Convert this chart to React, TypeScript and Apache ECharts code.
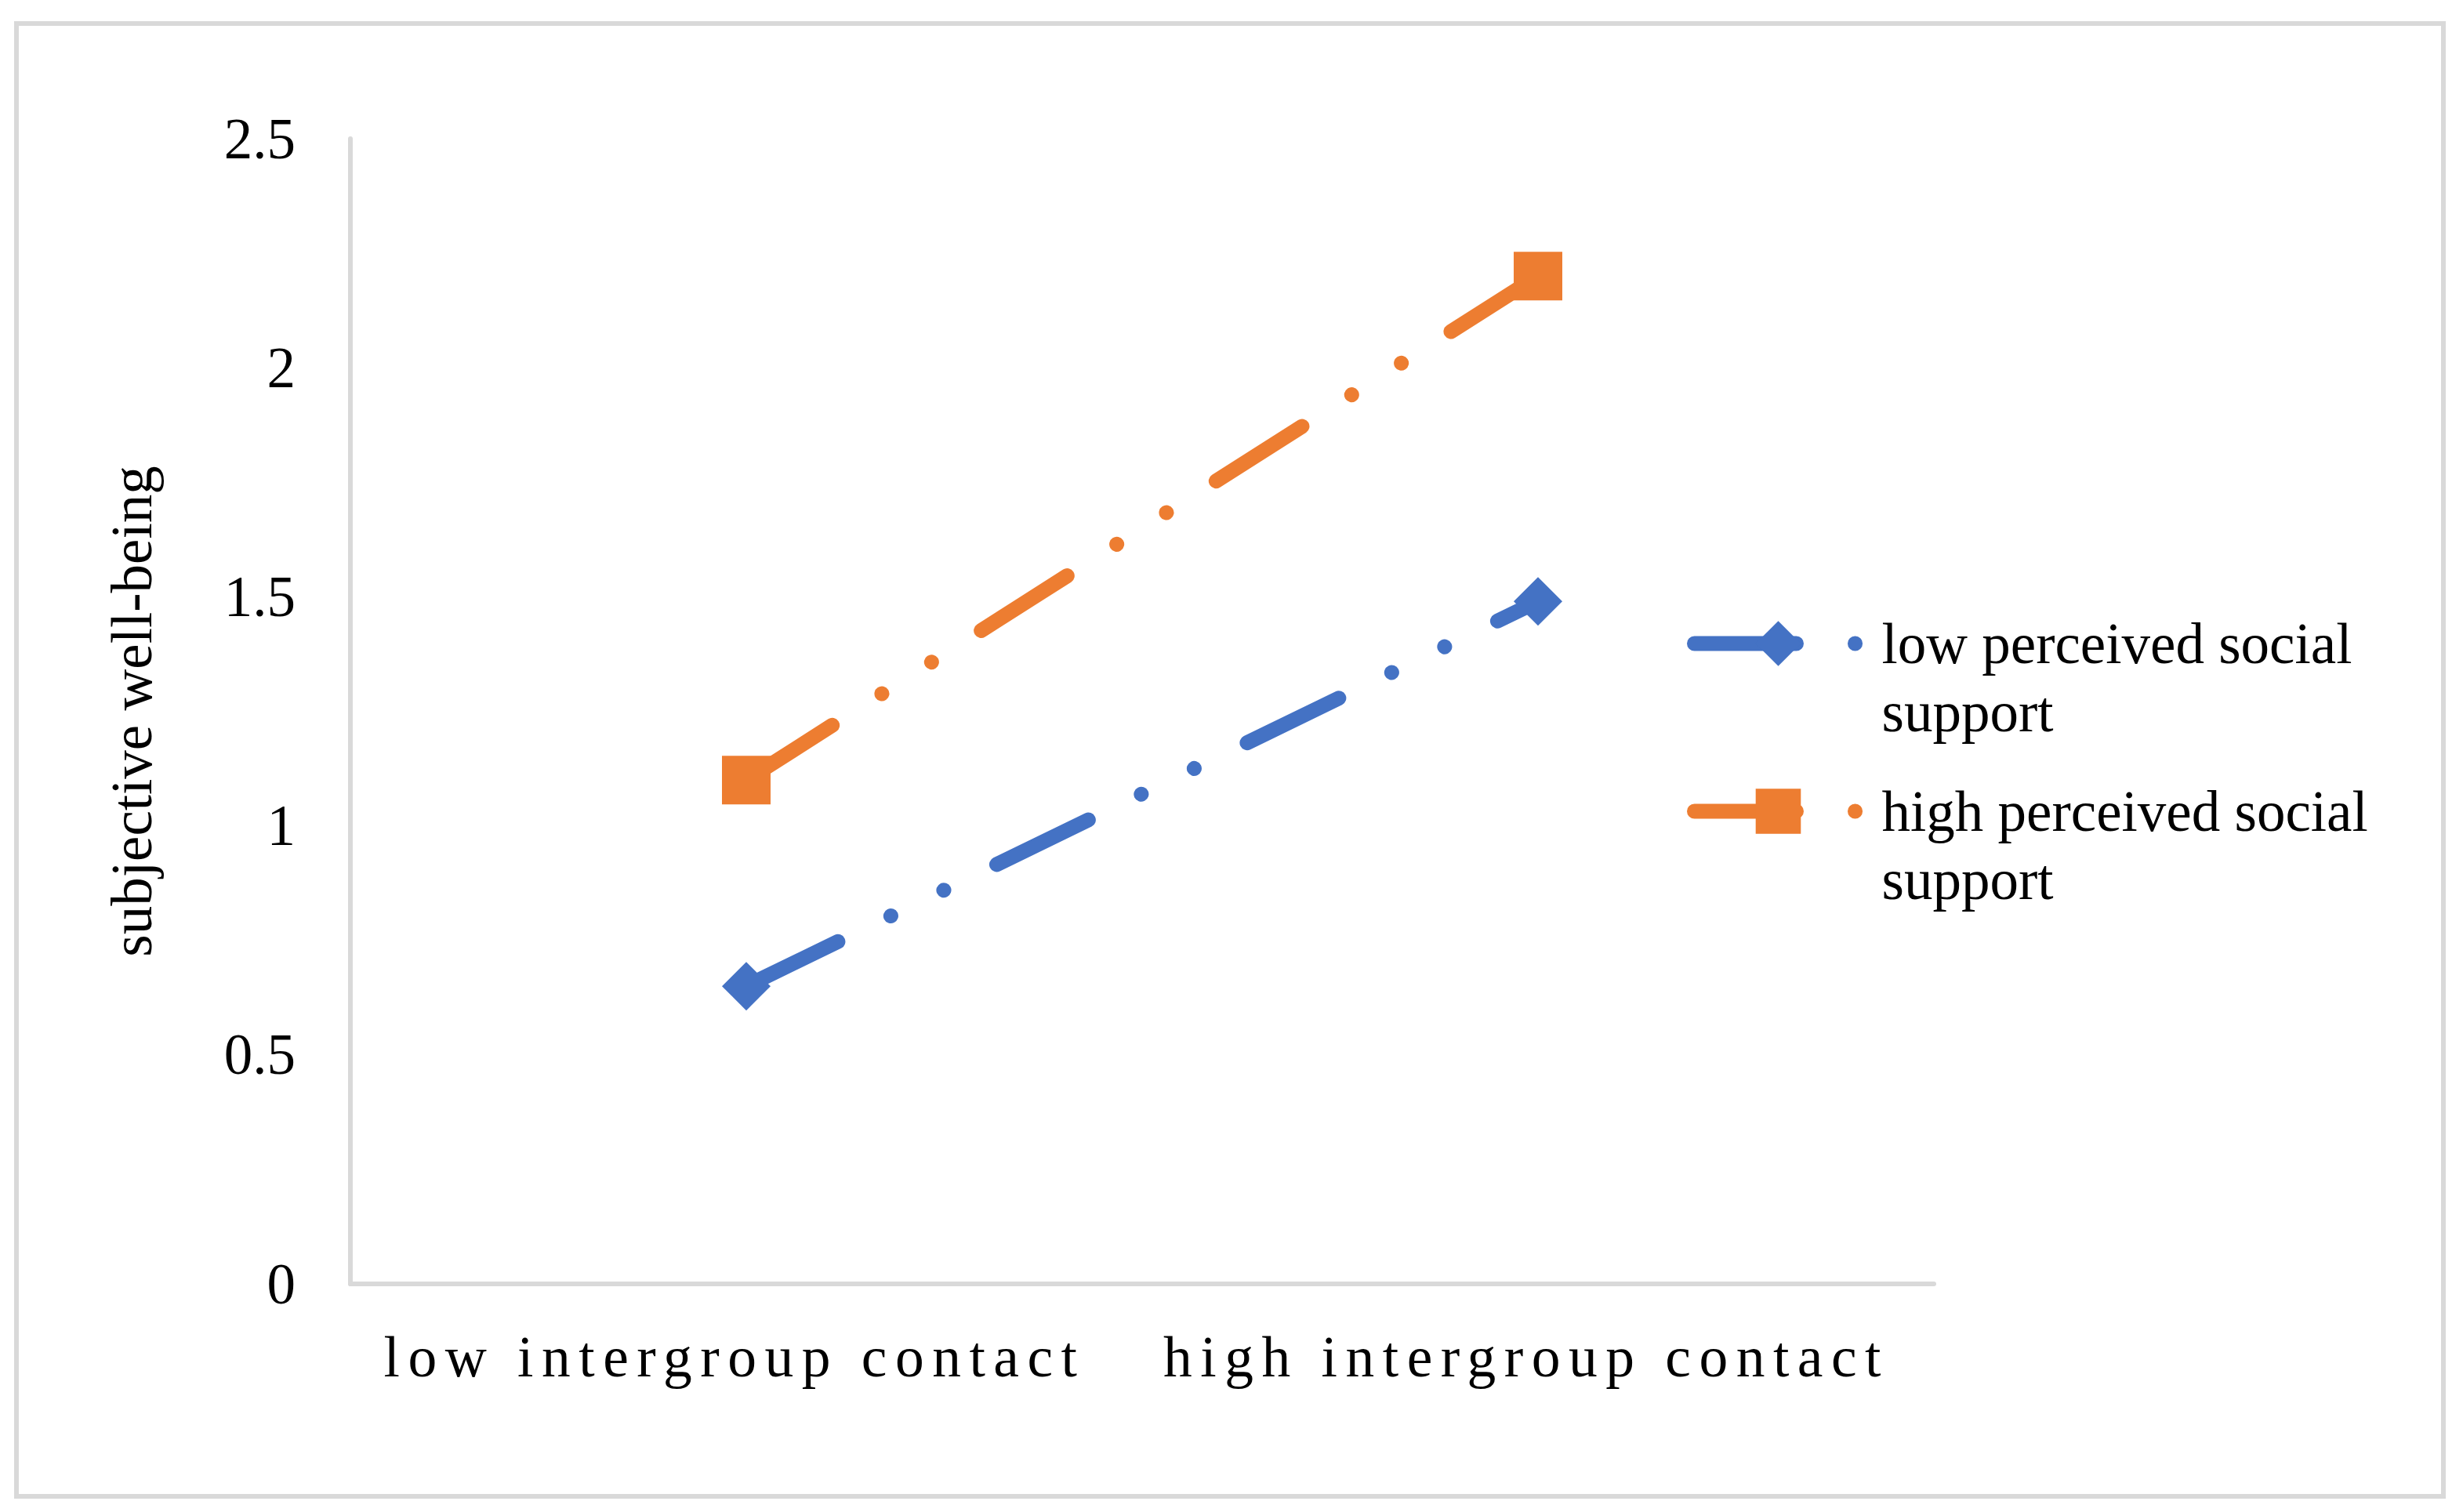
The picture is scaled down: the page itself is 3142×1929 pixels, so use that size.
import React, { useEffect, useRef } from 'react';
import * as echarts from 'echarts';

const categories = ['low intergroup contact', 'high intergroup contact'];
const seriesNames = ['low perceived social support', 'high perceived social support'];
const lowSupportValues = [0.65, 1.49];
const highSupportValues = [1.1, 2.2];
const yTicks = [0, 0.5, 1, 1.5, 2, 2.5];
const yAxisTitle = 'subjective well-being';

const FONT = "'Liberation Serif', 'Times New Roman', serif";
const DASH = [130, 75, 0.1, 75, 0.1, 75];
const COLORS = ['#4472C4', '#ED7D31'];
const SYMBOLS = ['diamond', 'rect'];
const SYMBOL_SIZES = [62, 62];

export default function App() {
  const ref = useRef<HTMLDivElement>(null);
  useEffect(() => {
    const chart = echarts.init(ref.current!, null, { renderer: 'svg' });
    const values = [lowSupportValues, highSupportValues];
    chart.setOption({
      animation: false,
      backgroundColor: '#ffffff',
      grid: { left: 447, top: 177, width: 2020, height: 1461, containLabel: false },
      xAxis: {
        type: 'category',
        data: categories,
        boundaryGap: true,
        axisLine: { show: true, lineStyle: { color: '#d9d9d9', width: 6 } },
        axisTick: { show: false },
        splitLine: { show: false },
        axisLabel: {
          fontFamily: FONT,
          fontSize: 73.5,
          color: '#000',
          margin: 56,
          padding: [0, 30, 0, 0],
        },
      },
      yAxis: {
        type: 'value',
        min: yTicks[0],
        max: yTicks[yTicks.length - 1],
        interval: yTicks[1] - yTicks[0],
        name: yAxisTitle,
        nameLocation: 'middle',
        nameGap: 242,
        nameTextStyle: { fontFamily: FONT, fontSize: 73, color: '#000' },
        axisLine: { show: true, lineStyle: { color: '#d9d9d9', width: 6 } },
        axisTick: { show: false },
        splitLine: { show: false },
        axisLabel: {
          fontFamily: FONT,
          fontSize: 73,
          color: '#000',
          margin: 70,
          formatter: (v: number) => String(v),
        },
      },
      legend: seriesNames.map((name, i) => ({
        data: [name],
        left: 2152,
        top: [690.5, 904.5][i],
        orient: 'vertical',
        padding: 0,
        itemWidth: 214,
        itemHeight: 72,
        selectedMode: false,
        lineStyle: { color: COLORS[i], width: 19, type: DASH, cap: 'round', join: 'round' },
        itemStyle: { color: COLORS[i] },
        formatter: (n: string) => '\n' + n.replace(' support', '\nsupport'),
        textStyle: {
          fontFamily: FONT,
          fontSize: 73,
          lineHeight: 87,
          color: '#000',
          padding: [0, 0, 0, 20],
        },
      })),
      series: seriesNames.map((name, i) => ({
        name,
        type: 'line',
        data: values[i],
        symbol: SYMBOLS[i],
        symbolSize: SYMBOL_SIZES[i],
        itemStyle: { color: COLORS[i] },
        lineStyle: { color: COLORS[i], width: 19, type: DASH, cap: 'round', join: 'round' },
        emphasis: { disabled: true },
        z: 3 + i,
      })),
      graphic: [
        {
          type: 'rect',
          silent: true,
          shape: { x: 21, y: 30, width: 3096, height: 1879 },
          style: { fill: 'none', stroke: '#d9d9d9', lineWidth: 6 },
        },
      ],
    });
    return () => chart.dispose();
  }, []);
  return (
    <>
      <style>{`text[style*="73.5px"]{letter-spacing:10.5px}`}</style>
      <div
        ref={ref}
        style={{ position: 'absolute', left: 0, top: 0, width: 3142, height: 1929 }}
      />
    </>
  );
}
